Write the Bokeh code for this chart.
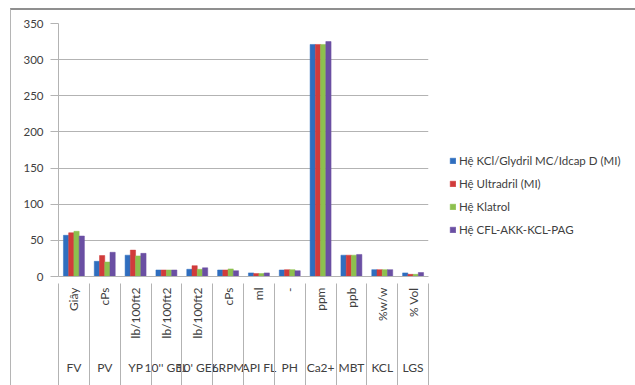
import math
from bokeh.plotting import figure
from bokeh.models import (Range1d, LinearAxis, FixedTicker,
                          SingleIntervalTicker, Legend, LegendItem, ColumnDataSource)
from bokeh.transform import dodge
from bokeh.embed import file_html
from bokeh.resources import INLINE

categories = ["FV", "PV", "YP", "10'' GEL", "10' GEL", "6RPM", "API FL", "PH", "Ca2+", "MBT", "KCL", "LGS"]
units = ["Giây", "cPs", "lb/100ft2", "lb/100ft2", "lb/100ft2", "cPs", "ml", "-", "ppm", "ppb", "%w/w", "% Vol"]
series_names = ["Hệ KCl/Glydril MC/Idcap D (MI)", "Hệ Ultradril (MI)", "Hệ Klatrol", "Hệ CFL-AKK-KCL-PAG"]
kcl_glydril = [57, 21, 29.5, 9, 10, 9, 5, 9, 321, 29.5, 9.5, 5]
ultradril = [60.5, 29, 36.5, 9, 15, 9, 4, 9.5, 321, 29.5, 9.5, 3]
klatrol = [62.5, 20, 28.5, 9, 10, 10.5, 4, 9.5, 321, 29.5, 9.5, 3]
cfl_akk = [56, 33.5, 32, 9, 12, 8, 5, 8, 325, 30.5, 9.5, 5.5]
y_ticks_interval = 50
y_max = 350

colors = ["#2F6EBF", "#D13B3B", "#8DC04E", "#6A4FA3"]
FONT = "Lato"
TXT = "#404040"
GRID = "#b3b3b3"

n = len(categories)
centers = [i + 0.5 for i in range(n)]
bounds = [float(i) for i in range(n + 1)]
source = ColumnDataSource(dict(pos=centers, s0=kcl_glydril, s1=ultradril, s2=klatrol, s3=cfl_akk))

p = figure(frame_width=370, frame_height=253, x_range=Range1d(0, n),
           y_range=Range1d(0, y_max), output_backend="svg", toolbar_location=None,
           x_axis_location=None, min_border_left=47, min_border_top=13,
           min_border_right=0, min_border_bottom=0)
p.outline_line_color = None
p.xgrid.grid_line_color = None
p.ygrid.grid_line_color = GRID
p.ygrid.grid_line_width = 1
p.styles = {"margin-left": "10px", "margin-top": "8px",
            "border-top": "2px solid #8f8f8f", "border-left": "1px solid #b5b5b5"}

bw = 0.17
renderers = []
for i, col in enumerate(["s0", "s1", "s2", "s3"]):
    r = p.vbar(x=dodge("pos", (i - 1.5) * bw), top=col, width=bw,
               source=source, fill_color=colors[i], line_color=colors[i], line_width=0.5)
    renderers.append(r)

# y axis
ya = p.yaxis[0]
ya.ticker = SingleIntervalTicker(interval=y_ticks_interval, num_minor_ticks=0)
ya.axis_line_color = GRID
ya.major_tick_line_color = GRID
ya.major_tick_out = 8
ya.major_tick_in = 0
ya.minor_tick_line_color = None
ya.major_label_standoff = 7
ya.major_label_text_font = FONT
ya.major_label_text_font_size = "11.5px"
ya.major_label_text_color = TXT

unit_axis = LinearAxis(ticker=FixedTicker(ticks=centers, minor_ticks=[]),
                       major_label_overrides=dict(zip(centers, units)))
unit_axis.major_label_orientation = math.pi / 2
unit_axis.axis_line_color = GRID
unit_axis.major_tick_line_color = None
unit_axis.major_tick_out = 0
unit_axis.major_tick_in = 0
unit_axis.minor_tick_line_color = None
unit_axis.major_label_standoff = 11
unit_axis.major_label_text_font = FONT
unit_axis.major_label_text_font_size = "12px"
unit_axis.major_label_text_color = TXT
p.add_layout(unit_axis, "below")

cat_axis = LinearAxis(ticker=FixedTicker(ticks=centers, minor_ticks=[]),
                      major_label_overrides=dict(zip(centers, categories)))
cat_axis.axis_line_color = None
cat_axis.major_tick_line_color = None
cat_axis.minor_tick_line_color = None
cat_axis.major_tick_out = 0
cat_axis.major_tick_in = 0
cat_axis.major_label_standoff = 18
cat_axis.major_label_text_font = FONT
cat_axis.major_label_text_font_size = "12px"
cat_axis.major_label_text_color = TXT
p.add_layout(cat_axis, "below")

# separator axis: category boundaries drawn upward toward the frame
sep = LinearAxis(ticker=FixedTicker(ticks=[], minor_ticks=bounds))
sep.axis_line_color = None
sep.major_tick_out = 0
sep.major_tick_in = 0
sep.minor_tick_out = 14
sep.minor_tick_in = 94
sep.minor_tick_line_color = GRID
sep.major_label_text_font_size = "0px"
p.add_layout(sep, "below")

legend = Legend(items=[LegendItem(label=nm, renderers=[r]) for nm, r in zip(series_names, renderers)],
                location=(21, 40), border_line_color=None, background_fill_alpha=0,
                label_text_font=FONT, label_text_font_size="11.5px", label_text_color=TXT,
                glyph_width=7, glyph_height=7, label_height=12, spacing=10,
                label_standoff=3, padding=0, margin=0)
p.add_layout(legend, "right")

open("out.html", "w").write(file_html(p, INLINE))
